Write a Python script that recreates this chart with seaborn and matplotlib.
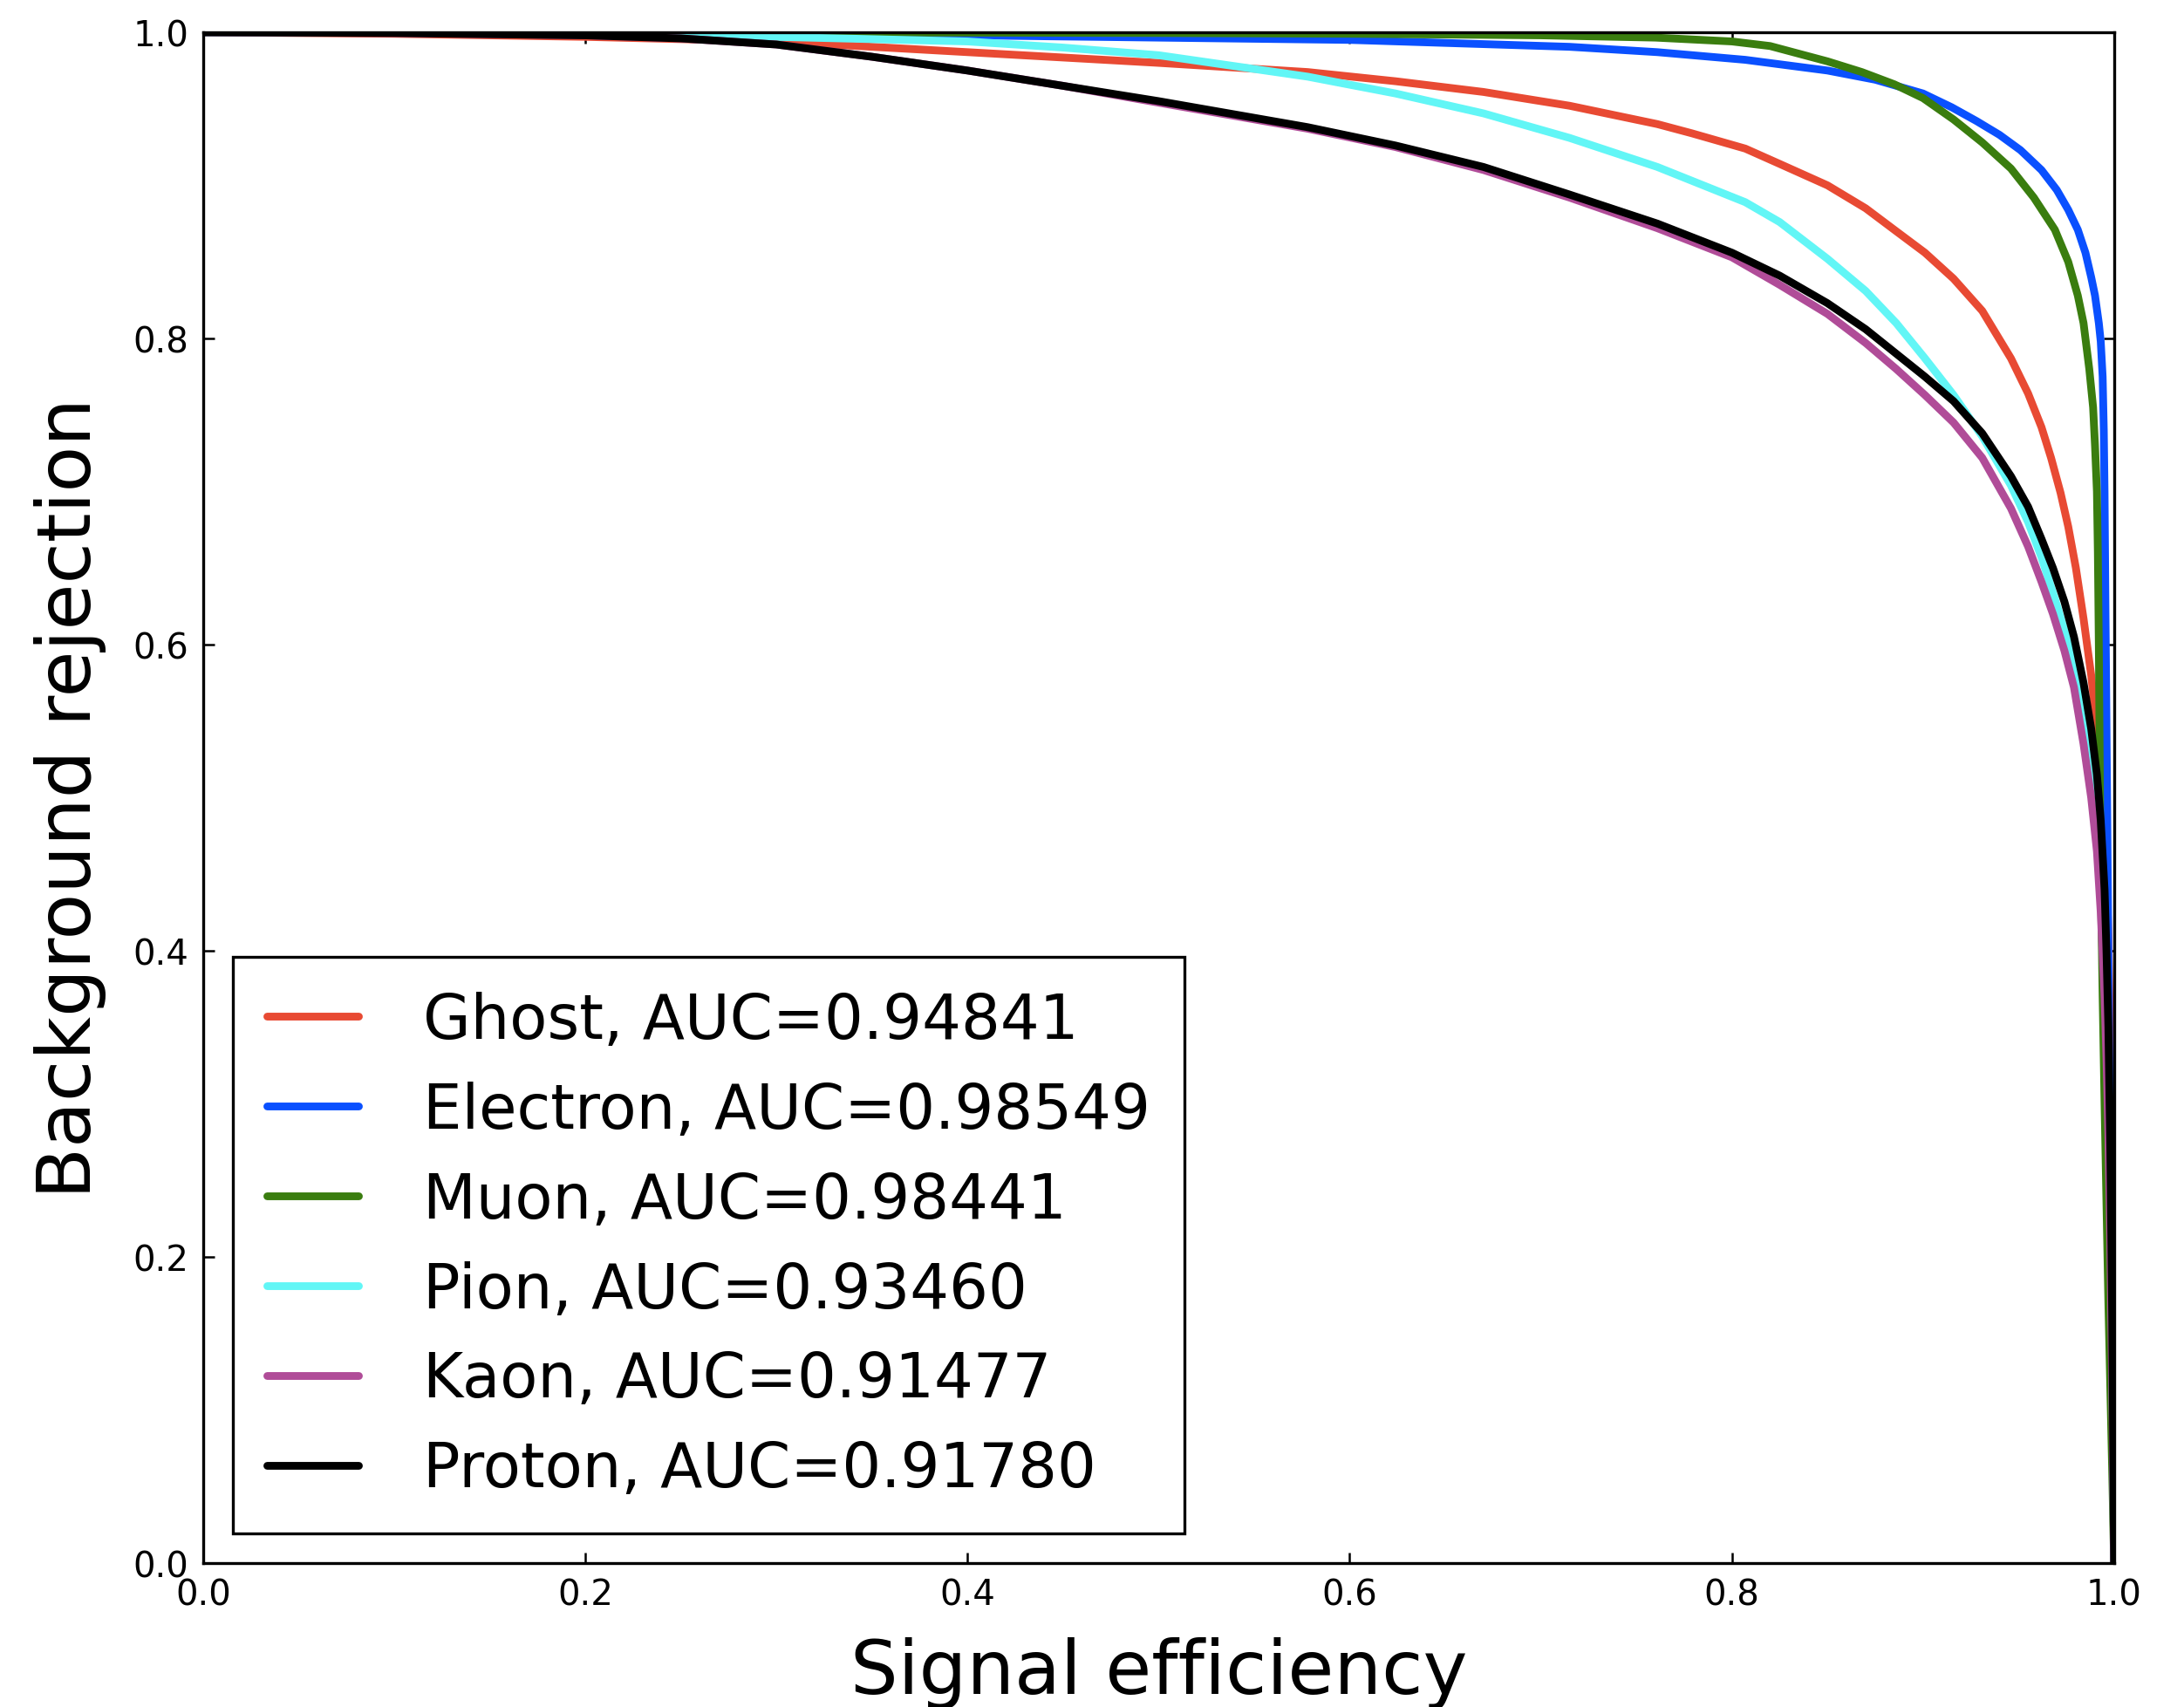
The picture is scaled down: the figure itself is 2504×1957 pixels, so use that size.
import matplotlib
matplotlib.use('Agg')
import matplotlib.pyplot as plt
import numpy as np
import pandas as pd
import seaborn as sns

particles = ['Ghost', 'Electron', 'Muon', 'Pion', 'Kaon', 'Proton']
auc_values = [0.94841, 0.98549, 0.98441, 0.93460, 0.91477, 0.91780]
line_colors = ['#E84A33', '#0A50FF', '#3A7D0F', '#62F6F6', '#B04C98', '#000000']

# signal efficiency / background rejection
ghost_x = [0, 0.1, 0.2, 0.3, 0.4, 0.5, 0.578, 0.624, 0.67, 0.715, 0.761, 0.779, 0.807, 0.825, 0.85,
           0.87, 0.886, 0.901, 0.916, 0.931, 0.946, 0.955, 0.962, 0.967, 0.972, 0.976, 0.98, 0.984,
           0.988, 0.991, 0.993, 0.995, 0.996, 0.997, 0.998, 0.999, 1.0]
ghost_y = [1.0, 0.999, 0.997, 0.994, 0.987, 0.980, 0.974, 0.968, 0.961, 0.952, 0.940, 0.934, 0.924,
           0.914, 0.900, 0.885, 0.870, 0.856, 0.839, 0.818, 0.787, 0.764, 0.742, 0.722, 0.699, 0.677,
           0.650, 0.617, 0.580, 0.545, 0.515, 0.475, 0.45, 0.41, 0.34, 0.22, 0.0]

electron_x = [0, 0.2, 0.3, 0.4, 0.5, 0.6, 0.715, 0.761, 0.807, 0.85, 0.875, 0.9, 0.915, 0.928, 0.94,
              0.951, 0.962, 0.97, 0.976, 0.981, 0.985, 0.988, 0.99, 0.992, 0.993, 0.994, 0.9946,
              0.995, 0.9955, 0.996, 0.997, 0.998, 0.999, 1.0]
electron_y = [1.0, 1.0, 0.999, 0.998, 0.9965, 0.995, 0.9905, 0.987, 0.982, 0.975, 0.969, 0.960, 0.951,
              0.942, 0.933, 0.923, 0.910, 0.897, 0.884, 0.871, 0.856, 0.840, 0.828, 0.810, 0.798,
              0.775, 0.74, 0.70, 0.62, 0.55, 0.40, 0.25, 0.12, 0.0]

muon_x = [0, 0.3, 0.5, 0.6, 0.7, 0.76, 0.8, 0.82, 0.835, 0.85, 0.868, 0.885, 0.9, 0.916, 0.931,
          0.946, 0.958, 0.969, 0.976, 0.981, 0.984, 0.987, 0.989, 0.99, 0.991, 0.9915, 0.992,
          0.9925, 0.993, 0.994, 0.995, 0.997, 0.999, 1.0]
muon_y = [1.0, 1.0, 0.9995, 0.999, 0.998, 0.9965, 0.994, 0.991, 0.986, 0.981, 0.974, 0.966, 0.957,
          0.943, 0.928, 0.911, 0.892, 0.871, 0.850, 0.828, 0.810, 0.780, 0.755, 0.730, 0.700, 0.66,
          0.60, 0.52, 0.45, 0.37, 0.30, 0.17, 0.06, 0.0]

pion_x = [0, 0.1, 0.2, 0.3, 0.4, 0.45, 0.5, 0.578, 0.624, 0.67, 0.715, 0.761, 0.779, 0.807, 0.825,
          0.85, 0.87, 0.886, 0.901, 0.916, 0.931, 0.946, 0.955, 0.962, 0.969, 0.975, 0.982, 0.988,
          0.992, 0.995, 0.997, 0.998, 0.999, 1.0]
pion_y = [1.0, 1.0, 0.999, 0.997, 0.994, 0.990, 0.985, 0.971, 0.960, 0.947, 0.931, 0.912, 0.903,
          0.889, 0.876, 0.852, 0.831, 0.810, 0.787, 0.763, 0.736, 0.704, 0.680, 0.657, 0.630, 0.605,
          0.565, 0.518, 0.470, 0.40, 0.31, 0.24, 0.14, 0.0]

kaon_x = [0, 0.1, 0.2, 0.25, 0.3, 0.35, 0.4, 0.45, 0.5, 0.578, 0.624, 0.67, 0.715, 0.761, 0.8,
          0.825, 0.85, 0.87, 0.886, 0.901, 0.916, 0.931, 0.946, 0.955, 0.962, 0.968, 0.974, 0.979,
          0.984, 0.988, 0.991, 0.993, 0.995, 0.996, 0.997, 0.998, 0.999, 1.0]
kaon_y = [1.0, 0.9995, 0.998, 0.996, 0.992, 0.984, 0.975, 0.965, 0.954, 0.937, 0.925, 0.910, 0.892,
          0.872, 0.853, 0.835, 0.816, 0.797, 0.780, 0.763, 0.745, 0.722, 0.689, 0.664, 0.641, 0.620,
          0.596, 0.572, 0.535, 0.500, 0.465, 0.425, 0.37, 0.33, 0.28, 0.21, 0.12, 0.0]

proton_x = [0, 0.1, 0.2, 0.25, 0.3, 0.35, 0.4, 0.45, 0.5, 0.578, 0.624, 0.67, 0.715, 0.761, 0.8,
            0.825, 0.85, 0.87, 0.886, 0.901, 0.916, 0.931, 0.946, 0.955, 0.962, 0.968, 0.974, 0.979,
            0.984, 0.988, 0.991, 0.993, 0.995, 0.996, 0.997, 0.998, 0.999, 1.0]
proton_y = [1.0, 0.9995, 0.998, 0.996, 0.992, 0.984, 0.975, 0.965, 0.955, 0.938, 0.926, 0.912, 0.894,
            0.875, 0.856, 0.841, 0.823, 0.806, 0.790, 0.775, 0.759, 0.738, 0.710, 0.690, 0.669, 0.650,
            0.628, 0.605, 0.575, 0.545, 0.515, 0.485, 0.44, 0.40, 0.35, 0.27, 0.16, 0.0]

curves_x = [ghost_x, electron_x, muon_x, pion_x, kaon_x, proton_x]
curves_y = [ghost_y, electron_y, muon_y, pion_y, kaon_y, proton_y]

labels = ['%s, AUC=%.5f' % (p, a) for p, a in zip(particles, auc_values)]
frames = []
for lab, xs, ys in zip(labels, curves_x, curves_y):
    frames.append(pd.DataFrame({'eff': xs, 'rej': ys, 'label': lab}))
roc_df = pd.concat(frames, ignore_index=True)

sns.set_style('white')
plt.rcParams['font.family'] = ['DejaVu Sans']
plt.rcParams['text.color'] = 'black'
plt.rcParams['axes.labelcolor'] = 'black'
plt.rcParams['xtick.color'] = 'black'
plt.rcParams['ytick.color'] = 'black'

fig = plt.figure(figsize=(12.52, 9.79), dpi=200)
ax = fig.add_axes([0.093, 0.0843, 0.875, 0.8963])

sns.lineplot(data=roc_df, x='eff', y='rej', hue='label', hue_order=labels,
             palette=dict(zip(labels, line_colors)), estimator=None, sort=False,
             linewidth=3.2, ax=ax)

ax.set_xlim(0, 1)
ax.set_ylim(0, 1)
ax.set_xticks(np.arange(0, 1.01, 0.2))
ax.set_yticks(np.arange(0, 1.01, 0.2))
ax.set_xticklabels(['0.0', '0.2', '0.4', '0.6', '0.8', '1.0'])
ax.set_yticklabels(['0.0', '0.2', '0.4', '0.6', '0.8', '1.0'])
ax.tick_params(direction='in', length=4.5, width=0.9, labelsize=14.5,
               top=True, right=True, bottom=True, left=True, pad=6)
for sp in ax.spines.values():
    sp.set_color('black')
    sp.set_linewidth(1.2)
    sp.set_visible(True)

ax.set_xlabel('Signal efficiency', fontsize=31, labelpad=10)
ax.set_ylabel('Background rejection', fontsize=31, labelpad=11)

leg = ax.legend(loc='lower left', fontsize=25.4, handlelength=1.5, handletextpad=1.05,
                labelspacing=0.48, borderpad=0.55, borderaxespad=0.48,
                fancybox=False, frameon=True, framealpha=1)
leg.get_frame().set_edgecolor('black')
leg.get_frame().set_linewidth(1.2)
for h in leg.get_lines():
    h.set_linewidth(3.2)

fig.savefig('out.png', dpi=200)
plt.close()
